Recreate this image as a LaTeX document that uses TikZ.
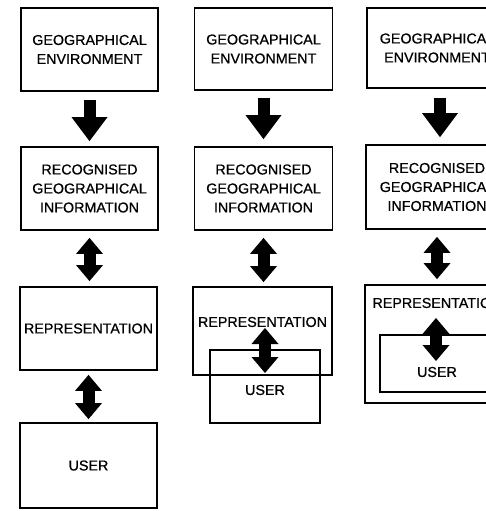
\documentclass[tikz,border=0pt]{standalone}
\usepackage{fontspec}
\setmainfont{Liberation Sans}[FakeBold=0.7]
\usetikzlibrary{arrows.meta}
\tikzset{
  box/.style={draw, line width=1.8pt, rectangle, inner sep=0pt, align=center,
    font=\fontsize{14.3}{19}\selectfont},
  lbl/.style={inner sep=0pt, font=\fontsize{14.3}{19}\selectfont},
  downarr/.style={line width=12pt, -{Triangle[width=36pt,length=24pt,line width=0pt]}},
  botharr/.style={line width=12pt, {Triangle[width=27pt,length=16pt,line width=0pt]}-{Triangle[width=27pt,length=16pt,line width=0pt]}},
}
\begin{document}
\begin{tikzpicture}[x=1pt,y=-1pt]
\useasboundingbox (0,0) rectangle (486,511);
\fill[white] (0,0) rectangle (486,511);
\clip (0,0) rectangle (486,511);

% column 1
\node[box, minimum width=137pt, minimum height=83pt] (ge1) at (89.5,49.5) {GEOGRAPHICAL\\ENVIRONMENT};
\node[box, minimum width=137pt, minimum height=83pt] (rgi1) at (89.5,188.5) {RECOGNISED\\GEOGRAPHICAL\\INFORMATION};
\node[box, minimum width=137pt, minimum height=83pt] (rep1) at (88.5,328.5) {REPRESENTATION};
\node[box, minimum width=137pt, minimum height=85pt] (user1) at (88.5,465.5) {USER};
\draw[downarr, shorten <=8pt, shorten >=5pt] (ge1.south) -- (rgi1.north);
\draw[botharr, shorten <=7pt, shorten >=5pt] (rgi1.south) -- (rgi1.south |- rep1.north);
\draw[botharr, shorten <=4pt, shorten >=3pt] (rep1.south) -- (user1.north);

% column 2
\node[box, minimum width=138pt, minimum height=82pt] (ge2) at (263.5,49) {GEOGRAPHICAL\\ENVIRONMENT};
\node[box, minimum width=138pt, minimum height=83pt] (rgi2) at (263.5,188.5) {RECOGNISED\\GEOGRAPHICAL\\INFORMATION};
\node[box, minimum width=139pt, minimum height=88pt] (rep2) at (262.5,331) {};
\node[box, minimum width=110pt, minimum height=73pt] (user2) at (265,386.5) {};
\node[lbl] (rep2t) at (262.5,322) {REPRESENTATION};
\node[lbl] (user2t) at (265,390) {USER};
\coordinate (c2a) at (265,328);
\coordinate (c2b) at (265,373);
\draw[downarr, shorten <=7pt, shorten >=7pt] (ge2.south) -- (rgi2.north);
\draw[botharr, shorten <=7pt, shorten >=4pt] (rgi2.south) -- (rgi2.south |- rep2.north);
\draw[botharr] (c2a) -- (c2b);

% column 3
\node[box, minimum width=140pt, minimum height=80pt] (ge3) at (437,48) {GEOGRAPHICAL\\ENVIRONMENT};
\node[box, minimum width=142pt, minimum height=84pt] (rgi3) at (437,187) {RECOGNISED\\GEOGRAPHICAL\\INFORMATION};
\node[box, minimum width=144pt, minimum height=118pt] (rep3) at (437,344) {};
\node[box, minimum width=114pt, minimum height=57pt] (user3) at (437,363.5) {};
\node[lbl] (rep3t) at (437,303) {REPRESENTATION};
\node[lbl] (user3t) at (437,372) {USER};
\coordinate (c3a) at (436,318);
\coordinate (c3b) at (436,361);
\draw[downarr, shorten <=9pt, shorten >=7pt] ([xshift=3pt]ge3.south) -- ([xshift=3pt]rgi3.north);
\draw[botharr, shorten <=7pt, shorten >=5pt] (rgi3.south) -- (rgi3.south |- rep3.north);
\draw[botharr] (c3a) -- (c3b);
\end{tikzpicture}
\end{document}
